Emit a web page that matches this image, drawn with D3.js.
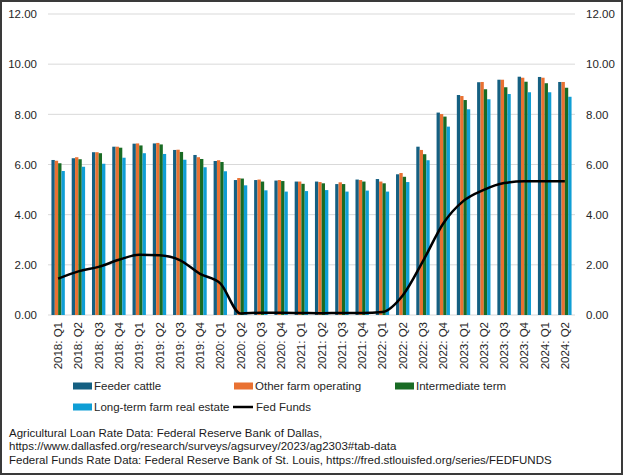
<!DOCTYPE html>
<html>
<head>
<meta charset="utf-8">
<script src="https://cdn.jsdelivr.net/npm/d3@7"></script>
<style>
  body { margin: 0; background: #fff; }
  svg { display: block; font-family: "Liberation Sans", Arial, sans-serif; }
</style>
</head>
<body>
<div id="chart"></div>
<script>
const quarters = ["2018: Q1", "2018: Q2", "2018: Q3", "2018: Q4", "2019: Q1", "2019: Q2", "2019: Q3", "2019: Q4",
    "2020: Q1", "2020: Q2", "2020: Q3", "2020: Q4", "2021: Q1", "2021: Q2", "2021: Q3", "2021: Q4",
    "2022: Q1", "2022: Q2", "2022: Q3", "2022: Q4", "2023: Q1", "2023: Q2", "2023: Q3", "2023: Q4",
    "2024: Q1", "2024: Q2"];

const feederCattle = [6.18, 6.25, 6.49, 6.71, 6.83, 6.84, 6.58, 6.38, 6.14, 5.38, 5.38, 5.36, 5.32,
    5.32, 5.22, 5.40, 5.42, 5.61, 6.71, 8.07, 8.77, 9.28, 9.38, 9.50, 9.49, 9.29];
const otherOperating = [6.15, 6.29, 6.49, 6.71, 6.84, 6.86, 6.59, 6.29, 6.17, 5.46, 5.40, 5.38, 5.32,
    5.30, 5.29, 5.38, 5.32, 5.66, 6.58, 8.01, 8.73, 9.29, 9.38, 9.46, 9.46, 9.29];
const intermediateTerm = [6.05, 6.21, 6.45, 6.67, 6.76, 6.80, 6.50, 6.22, 6.10, 5.44, 5.32, 5.34, 5.23,
    5.25, 5.22, 5.32, 5.25, 5.51, 6.41, 7.91, 8.57, 9.00, 9.08, 9.30, 9.24, 9.06];
const longTermRealEstate = [5.74, 5.91, 6.03, 6.27, 6.45, 6.42, 6.19, 5.89, 5.73, 5.17, 4.97, 4.92, 4.94,
    4.98, 4.92, 4.96, 4.92, 5.30, 6.17, 7.51, 8.20, 8.60, 8.81, 8.88, 8.88, 8.70];
const fedFunds = [1.45, 1.74, 1.92, 2.20, 2.40, 2.38, 2.19, 1.64, 1.26, 0.06, 0.09, 0.09, 0.08,
    0.07, 0.08, 0.08, 0.12, 0.78, 2.15, 3.65, 4.55, 4.99, 5.26, 5.33, 5.33, 5.33];

const yTicks = [0, 2, 4, 6, 8, 10, 12];

const barSeries = [
    { name: "Feeder cattle", color: "#156082", values: feederCattle },
    { name: "Other farm operating", color: "#E97132", values: otherOperating },
    { name: "Intermediate term", color: "#196B24", values: intermediateTerm },
    { name: "Long-term farm real estate", color: "#0F9ED5", values: longTermRealEstate }
];

const sources = [
    "Agricultural Loan Rate Data: Federal Reserve Bank of Dallas,",
    "https://www.dallasfed.org/research/surveys/agsurvey/2023/ag2303#tab-data",
    "Federal Funds Rate Data: Federal Reserve Bank of St. Louis, https://fred.stlouisfed.org/series/FEDFUNDS"
];

const W = 624, H = 476;
const plot = { left: 48, right: 575, top: 14, bottom: 315 };

const svg = d3.select("#chart").append("svg")
    .attr("width", W)
    .attr("height", H);

svg.append("rect")
    .attr("x", 1).attr("y", 1)
    .attr("width", W - 3).attr("height", H - 3)
    .attr("fill", "#fff")
    .attr("stroke", "#3a3a3a")
    .attr("stroke-width", 2);

const x = d3.scaleBand().domain(quarters).range([plot.left, plot.right]).paddingInner(0.34).paddingOuter(0.17);
const xs = d3.scaleBand().domain(barSeries.map(s => s.name)).range([0, x.bandwidth()]);
const y = d3.scaleLinear().domain([0, 12]).range([plot.bottom, plot.top]);

// gridlines
svg.append("g")
    .selectAll("line")
    .data(yTicks)
    .enter().append("line")
    .attr("x1", plot.left).attr("x2", plot.right)
    .attr("y1", d => y(d)).attr("y2", d => y(d))
    .attr("stroke", "#d9d9d9")
    .attr("stroke-width", 1);

// left and right axes
const fmt = d3.format(".2f");
const leftAxis = svg.append("g")
    .attr("transform", `translate(${plot.left - 11},0)`)
    .call(d3.axisLeft(y).tickValues(yTicks).tickFormat(fmt).tickSize(0).tickPadding(0));
const rightAxis = svg.append("g")
    .attr("transform", `translate(${plot.right + 11},0)`)
    .call(d3.axisRight(y).tickValues(yTicks).tickFormat(fmt).tickSize(0).tickPadding(0));
[leftAxis, rightAxis].forEach(a => {
    a.select(".domain").remove();
    a.selectAll("text").style("font-size", "11.5px").attr("fill", "#262626");
});

// bars
barSeries.forEach(s => {
    svg.append("g")
        .selectAll("rect")
        .data(s.values)
        .enter().append("rect")
        .attr("x", (d, i) => x(quarters[i]) + xs(s.name))
        .attr("y", d => y(d))
        .attr("width", xs.bandwidth())
        .attr("height", d => y(0) - y(d))
        .attr("fill", s.color);
});

// fed funds line (monotone so it never dips under zero)
const line = d3.line()
    .x((d, i) => x(quarters[i]) + x.bandwidth() / 2)
    .y(d => y(d))
    .curve(d3.curveMonotoneX);

svg.append("path")
    .datum(fedFunds)
    .attr("fill", "none")
    .attr("stroke", "#000")
    .attr("stroke-width", 2.5)
    .attr("stroke-linejoin", "round")
    .attr("d", line);

// x axis labels
const xAxis = svg.append("g")
    .attr("transform", `translate(0,${plot.bottom})`)
    .call(d3.axisBottom(x).tickSize(0).tickPadding(0));
xAxis.select(".domain").remove();
xAxis.selectAll("text")
    .attr("transform", "translate(0,7) rotate(-90)")
    .attr("dy", "0.35em")
    .attr("x", 0).attr("y", 0)
    .style("text-anchor", "end")
    .style("font-size", "11.5px")
    .attr("fill", "#262626");

// legend
const legendItems = [
    { name: barSeries[0].name, color: barSeries[0].color, type: "bar", x: 73, y: 386 },
    { name: barSeries[1].name, color: barSeries[1].color, type: "bar", x: 234, y: 386 },
    { name: barSeries[2].name, color: barSeries[2].color, type: "bar", x: 395, y: 386 },
    { name: barSeries[3].name, color: barSeries[3].color, type: "bar", x: 73, y: 407 },
    { name: "Fed Funds", color: "#000", type: "line", x: 233, y: 407 }
];

const legend = svg.append("g");
const item = legend.selectAll("g")
    .data(legendItems)
    .enter().append("g")
    .attr("transform", d => `translate(${d.x},${d.y})`);

item.filter(d => d.type === "bar").append("rect")
    .attr("x", 0).attr("y", -3.5)
    .attr("width", 19).attr("height", 7)
    .attr("fill", d => d.color);

item.filter(d => d.type === "line").append("line")
    .attr("x1", 0).attr("x2", 20)
    .attr("y1", 0).attr("y2", 0)
    .attr("stroke", "#000")
    .attr("stroke-width", 2.5);

item.append("text")
    .attr("x", d => d.type === "line" ? 23 : 21)
    .attr("dy", "0.35em")
    .style("font-size", "11.5px")
    .attr("fill", "#262626")
    .text(d => d.name);

// source notes
svg.append("g")
    .selectAll("text")
    .data(sources)
    .enter().append("text")
    .attr("x", 9)
    .attr("y", (d, i) => 433 + i * 13.3)
    .attr("dy", "0.35em")
    .style("font-size", "11.5px")
    .attr("fill", "#1a1a1a")
    .text(d => d);
</script>
</body>
</html>
